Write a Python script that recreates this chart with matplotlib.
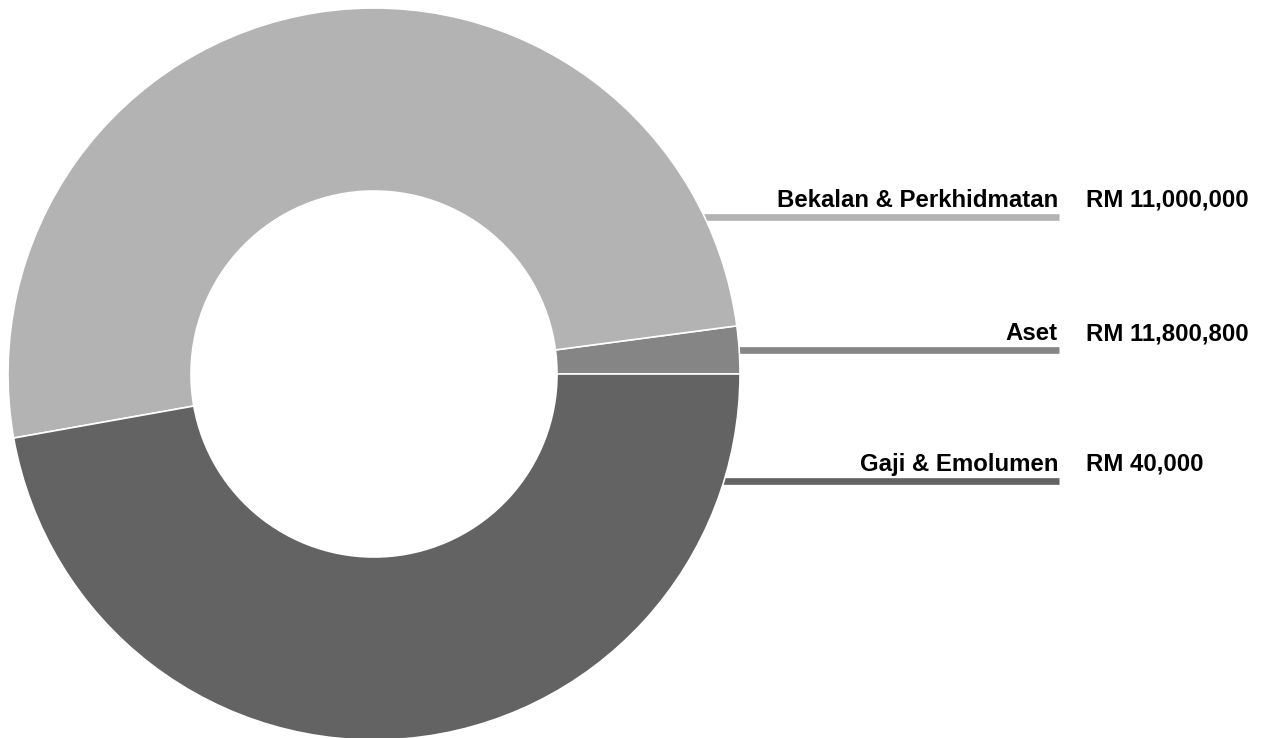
import matplotlib
matplotlib.use("Agg")
import matplotlib.pyplot as plt

# Data (slice sizes, percent of the ring)
categories = ["Aset", "Bekalan & Perkhidmatan", "Gaji & Emolumen"]
shares = [2.1, 50.7, 47.2]
value_labels = ["RM 11,800,800", "RM 11,000,000", "RM 40,000"]
colors = ["#858585", "#b3b3b3", "#636363"]

# Legend rows, top to bottom
legend_order = ["Bekalan & Perkhidmatan", "Aset", "Gaji & Emolumen"]

W, H = 1261, 738
fig = plt.figure(figsize=(W / 100, H / 100), dpi=100)
ax = fig.add_axes([0, 0, 1, 1])

cx, cy, R = 374, H - 374, 366
wedges, _ = ax.pie(shares, colors=colors, startangle=0, counterclock=True,
                   center=(cx, cy), radius=R,
                   wedgeprops=dict(width=R * 0.5, edgecolor="white", linewidth=1.2))
for w in wedges:
    w.set_zorder(3)

ax.set_xlim(0, W)
ax.set_ylim(0, H)
ax.set_aspect("equal")
ax.axis("off")

row_y = [H - 217, H - 350, H - 481]
line_end = 1059
label_x = 1058
value_x = 1086
font = dict(family=["Liberation Sans", "DejaVu Sans"], weight="bold", size=17.3)

for name, y in zip(legend_order, row_y):
    i = categories.index(name)
    dy = y - cy
    x0 = cx + (R ** 2 - dy ** 2) ** 0.5
    ax.plot([x0 - 3, line_end], [y, y], color=colors[i], linewidth=4.8,
            solid_capstyle="butt", zorder=2)
    ax.text(label_x, y + 10, name, ha="right", va="baseline", color="black", **font)
    ax.text(value_x, y + 10, value_labels[i], ha="left", va="baseline", color="black", **font)

fig.savefig("out.png", dpi=100)
